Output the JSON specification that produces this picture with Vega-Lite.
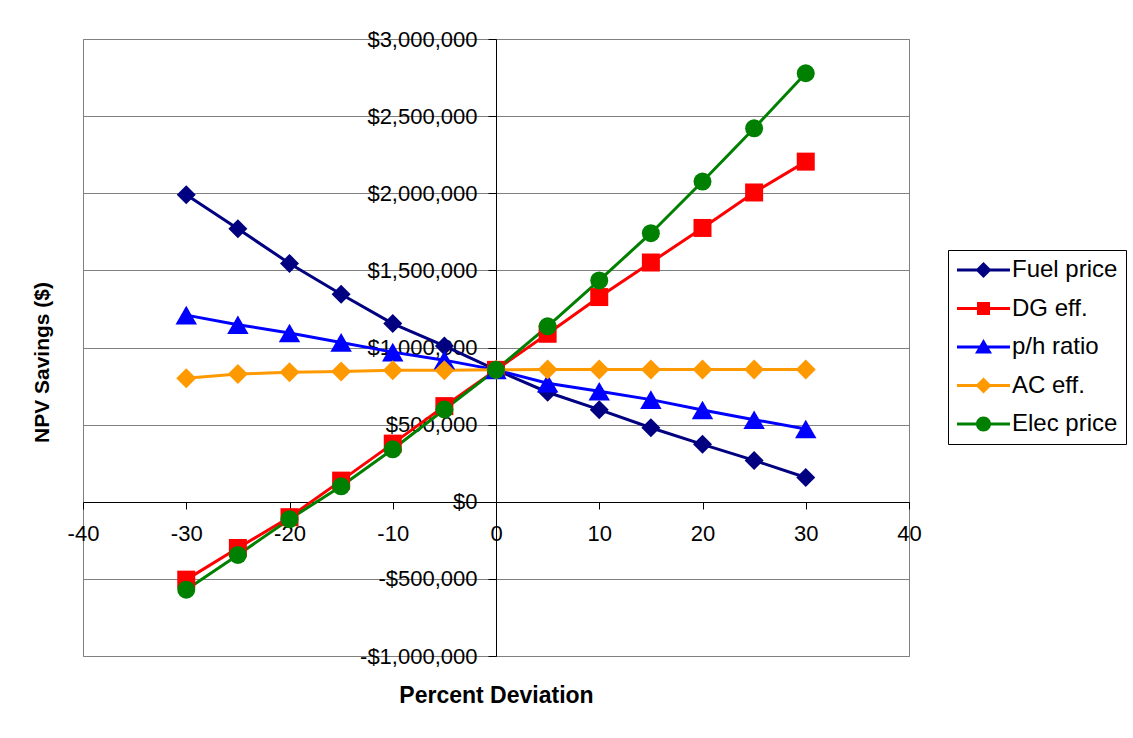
{
  "$schema": "https://vega.github.io/schema/vega-lite/v6.json",
  "width": 826,
  "height": 617,
  "autosize": {"type": "none"},
  "padding": {"left": 83, "top": 39, "right": 224, "bottom": 82},
  "background": "white",
  "data": {"values": [
    {"x": -30, "series": "Fuel price", "y": 1990000},
    {"x": -25, "series": "Fuel price", "y": 1770000},
    {"x": -20, "series": "Fuel price", "y": 1545000},
    {"x": -15, "series": "Fuel price", "y": 1345000},
    {"x": -10, "series": "Fuel price", "y": 1155000},
    {"x": -5, "series": "Fuel price", "y": 1010000},
    {"x": 0, "series": "Fuel price", "y": 855000},
    {"x": 5, "series": "Fuel price", "y": 710000},
    {"x": 10, "series": "Fuel price", "y": 597000},
    {"x": 15, "series": "Fuel price", "y": 480000},
    {"x": 20, "series": "Fuel price", "y": 372000},
    {"x": 25, "series": "Fuel price", "y": 268000},
    {"x": 30, "series": "Fuel price", "y": 157000},
    {"x": -30, "series": "DG eff.", "y": -505000},
    {"x": -25, "series": "DG eff.", "y": -300000},
    {"x": -20, "series": "DG eff.", "y": -100000},
    {"x": -15, "series": "DG eff.", "y": 137000},
    {"x": -10, "series": "DG eff.", "y": 377000},
    {"x": -5, "series": "DG eff.", "y": 620000},
    {"x": 0, "series": "DG eff.", "y": 855000},
    {"x": 5, "series": "DG eff.", "y": 1089000},
    {"x": 10, "series": "DG eff.", "y": 1327000},
    {"x": 15, "series": "DG eff.", "y": 1551000},
    {"x": 20, "series": "DG eff.", "y": 1775000},
    {"x": 25, "series": "DG eff.", "y": 2005000},
    {"x": 30, "series": "DG eff.", "y": 2205000},
    {"x": -30, "series": "p/h ratio", "y": 1210000},
    {"x": -25, "series": "p/h ratio", "y": 1148000},
    {"x": -20, "series": "p/h ratio", "y": 1094000},
    {"x": -15, "series": "p/h ratio", "y": 1033000},
    {"x": -10, "series": "p/h ratio", "y": 970000},
    {"x": -5, "series": "p/h ratio", "y": 918000},
    {"x": 0, "series": "p/h ratio", "y": 855000},
    {"x": 5, "series": "p/h ratio", "y": 768000},
    {"x": 10, "series": "p/h ratio", "y": 716000},
    {"x": 15, "series": "p/h ratio", "y": 662000},
    {"x": 20, "series": "p/h ratio", "y": 595000},
    {"x": 25, "series": "p/h ratio", "y": 532000},
    {"x": 30, "series": "p/h ratio", "y": 472000},
    {"x": -30, "series": "AC eff.", "y": 800000},
    {"x": -25, "series": "AC eff.", "y": 828000},
    {"x": -20, "series": "AC eff.", "y": 840000},
    {"x": -15, "series": "AC eff.", "y": 845000},
    {"x": -10, "series": "AC eff.", "y": 852000},
    {"x": -5, "series": "AC eff.", "y": 853000},
    {"x": 0, "series": "AC eff.", "y": 855000},
    {"x": 5, "series": "AC eff.", "y": 858000},
    {"x": 10, "series": "AC eff.", "y": 858000},
    {"x": 15, "series": "AC eff.", "y": 858000},
    {"x": 20, "series": "AC eff.", "y": 858000},
    {"x": 25, "series": "AC eff.", "y": 858000},
    {"x": 30, "series": "AC eff.", "y": 858000},
    {"x": -30, "series": "Elec price", "y": -570000},
    {"x": -25, "series": "Elec price", "y": -345000},
    {"x": -20, "series": "Elec price", "y": -113000},
    {"x": -15, "series": "Elec price", "y": 100000},
    {"x": -10, "series": "Elec price", "y": 340000},
    {"x": -5, "series": "Elec price", "y": 598000},
    {"x": 0, "series": "Elec price", "y": 855000},
    {"x": 5, "series": "Elec price", "y": 1137000},
    {"x": 10, "series": "Elec price", "y": 1435000},
    {"x": 15, "series": "Elec price", "y": 1741000},
    {"x": 20, "series": "Elec price", "y": 2076000},
    {"x": 25, "series": "Elec price", "y": 2421000},
    {"x": 30, "series": "Elec price", "y": 2778000}
  ]},
  "encoding": {
    "x": {
      "field": "x", "type": "quantitative",
      "scale": {"domain": [-40, 40], "nice": false, "zero": false},
      "axis": {
        "title": "Percent Deviation",
        "offset": -154,
        "values": [-40, -30, -20, -10, 0, 10, 20, 30, 40],
        "labelExpr": "(datum.value < 0 ? '-' : '') + abs(datum.value)",
        "grid": false,
        "tickSize": 7,
        "labelPadding": 14,
        "labelFontSize": 22,
        "titleFontSize": 23,
        "titleFontWeight": "bold",
        "titleY": 193,
        "titleBaseline": "middle",
        "labelFlush": false,
        "labelOverlap": false
      }
    },
    "y": {
      "field": "y", "type": "quantitative",
      "scale": {"domain": [-1000000, 3000000], "nice": false, "zero": false},
      "axis": {
        "title": "NPV Savings ($)",
        "offset": -413,
        "values": [-1000000, -500000, 0, 500000, 1000000, 1500000, 2000000, 2500000, 3000000],
        "labelExpr": "(datum.value < 0 ? '-' : '') + '$' + format(abs(datum.value), ',')",
        "grid": true,
        "gridColor": "#808080",
        "gridWidth": 1,
        "tickSize": 8,
        "labelPadding": 11,
        "labelFontSize": 22,
        "titleFontSize": 21,
        "titleFontWeight": "bold",
        "titleX": -454,
        "titleY": 323,
        "titleAngle": -90,
        "titleAlign": "center",
        "titleBaseline": "middle",
        "labelFlush": false,
        "labelOverlap": false
      }
    },
    "color": {
      "field": "series", "type": "nominal",
      "scale": {
        "domain": ["Fuel price", "DG eff.", "p/h ratio", "AC eff.", "Elec price"],
        "range": ["#000080", "#FF0000", "#0000FF", "#FF9900", "#008000"]
      },
      "legend": {
        "orient": "none",
        "legendX": 865,
        "legendY": 211,
        "title": null,
        "strokeColor": "#000000",
        "fillColor": "#FFFFFF",
        "padding": 8,
        "symbolSize": 400,
        "labelFontSize": 24,
        "labelColor": "#000000",
        "rowPadding": 14.5,
        "labelOffset": 32,
        "encode": {
          "symbols": {
            "update": {
              "shape": {"signal": "datum.value === 'Fuel price' || datum.value === 'AC eff.' ? 'M-1.1,-0.15 L4.2,-0.15 L4.2,0.15 L-1.1,0.15 Z M1.55,-0.8 L2.35,0 L1.55,0.8 L0.75,0 Z' : datum.value === 'DG eff.' ? 'M-1.1,-0.15 L4.2,-0.15 L4.2,0.15 L-1.1,0.15 Z M0.9,-0.65 L2.2,-0.65 L2.2,0.65 L0.9,0.65 Z' : datum.value === 'p/h ratio' ? 'M-1.1,-0.15 L4.2,-0.15 L4.2,0.15 L-1.1,0.15 Z M1.55,-0.8 L2.4,0.65 L0.7,0.65 Z' : 'M-1.1,-0.15 L4.2,-0.15 L4.2,0.15 L-1.1,0.15 Z M2.3,0 A0.75,0.75 0 1,1 0.8,0 A0.75,0.75 0 1,1 2.3,0 Z'"},
              "fill": {"scale": "color", "field": "value"},
              "stroke": {"value": "transparent"},
              "strokeWidth": {"value": 0},
              "opacity": {"value": 1}
            }
          }
        }
      }
    }
  },
  "layer": [
    {"mark": {"type": "line", "strokeWidth": 3}},
    {
      "transform": [{"filter": "datum.series === 'Fuel price'"}],
      "mark": {"type": "point", "filled": true, "opacity": 1, "shape": "diamond", "size": 361}
    },
    {
      "transform": [{"filter": "datum.series === 'DG eff.'"}],
      "mark": {"type": "point", "filled": true, "opacity": 1, "shape": "square", "size": 324}
    },
    {
      "transform": [{"filter": "datum.series === 'p/h ratio'"}],
      "mark": {"type": "point", "filled": true, "opacity": 1, "shape": "triangle-up", "size": 460}
    },
    {
      "transform": [{"filter": "datum.series === 'AC eff.'"}],
      "mark": {"type": "point", "filled": true, "opacity": 1, "shape": "diamond", "size": 400}
    },
    {
      "transform": [{"filter": "datum.series === 'Elec price'"}],
      "mark": {"type": "point", "filled": true, "opacity": 1, "shape": "circle", "size": 324}
    }
  ],
  "config": {
    "font": "Liberation Sans",
    "view": {"stroke": "#808080", "strokeWidth": 1},
    "axis": {
      "domainColor": "#000000",
      "tickColor": "#000000",
      "labelColor": "#000000",
      "titleColor": "#000000",
      "labelFont": "Liberation Sans",
      "titleFont": "Liberation Sans"
    },
    "legend": {"labelFont": "Liberation Sans"}
  }
}
